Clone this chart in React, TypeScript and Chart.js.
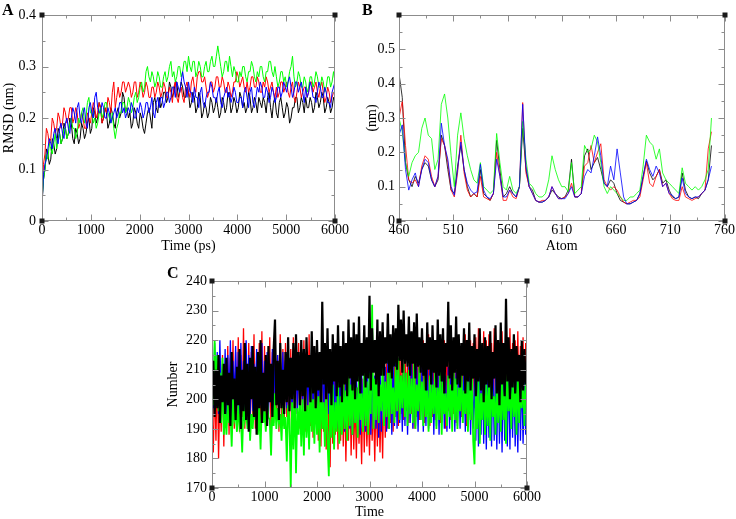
import React, { useEffect, useRef } from "react";
import { Chart, registerables } from "chart.js";

Chart.register(...registerables);

const SERIF = "'Liberation Serif', 'Times New Roman', Times, serif";
const FRAME_COLOR = "#8c8c8c";
const RED = "#ff0000";
const GREEN = "#00ff00";
const BLUE = "#0000ff";
const BLACK = "#000000";

// ---------------- Panel A : RMSD (nm) vs Time (ps), sampled every 30 ps ----------------
const A_T_START = 0;
const A_T_STEP = 30;
const A_XTICKS = [0, 1000, 2000, 3000, 4000, 5000, 6000];
const A_YTICKS = [0, 0.1, 0.2, 0.3, 0.4];
const A_YLABELS = ["0", "0.1", "0.2", "0.3", "0.4"];

const A_BLACK = [
  0.03, 0.08, 0.10, 0.14, 0.13, 0.11, 0.12, 0.16, 0.15, 0.13, 0.14, 0.18, 0.17, 0.15, 0.16, 0.19, 0.18, 0.16, 0.17, 0.20,
  0.19, 0.16, 0.15, 0.18, 0.17, 0.15, 0.16, 0.19, 0.18, 0.16, 0.17, 0.19, 0.20, 0.17, 0.18, 0.22, 0.21, 0.19, 0.20, 0.23,
  0.22, 0.19, 0.20, 0.22, 0.21, 0.18, 0.19, 0.22, 0.21, 0.19, 0.18, 0.21, 0.22, 0.20, 0.21, 0.25, 0.24, 0.21, 0.22, 0.20,
  0.21, 0.18, 0.19, 0.22, 0.21, 0.19, 0.18, 0.21, 0.20, 0.18, 0.17, 0.19, 0.21, 0.22, 0.20, 0.18, 0.23, 0.24, 0.22, 0.21,
  0.24, 0.22, 0.23, 0.25, 0.25, 0.23, 0.24, 0.27, 0.26, 0.24, 0.25, 0.27, 0.27, 0.24, 0.25, 0.27, 0.26, 0.24, 0.24, 0.26,
  0.25, 0.22, 0.23, 0.25, 0.24, 0.21, 0.22, 0.25, 0.24, 0.20, 0.21, 0.23, 0.22, 0.20, 0.21, 0.24, 0.23, 0.21, 0.22, 0.24,
  0.22, 0.20, 0.21, 0.24, 0.23, 0.21, 0.22, 0.25, 0.24, 0.21, 0.22, 0.24, 0.23, 0.21, 0.22, 0.25, 0.24, 0.22, 0.23, 0.21,
  0.22, 0.25, 0.24, 0.21, 0.22, 0.24, 0.23, 0.21, 0.24, 0.23, 0.22, 0.24, 0.23, 0.21, 0.24, 0.25, 0.22, 0.20, 0.23, 0.24,
  0.21, 0.20, 0.23, 0.24, 0.22, 0.20, 0.21, 0.23, 0.22, 0.19, 0.20, 0.22, 0.22, 0.24, 0.24, 0.21, 0.22, 0.24, 0.23, 0.21,
  0.24, 0.22, 0.22, 0.24, 0.23, 0.21, 0.22, 0.25, 0.24, 0.22, 0.23, 0.25, 0.24, 0.21, 0.22, 0.24, 0.23, 0.21, 0.22, 0.24,
  0.23,
];
const A_RED = [
  0.05, 0.11, 0.13, 0.18, 0.17, 0.15, 0.16, 0.20, 0.19, 0.17, 0.18, 0.21, 0.20, 0.18, 0.19, 0.22, 0.21, 0.19, 0.20, 0.22,
  0.22, 0.19, 0.20, 0.22, 0.21, 0.18, 0.19, 0.21, 0.20, 0.18, 0.18, 0.21, 0.20, 0.19, 0.21, 0.23, 0.22, 0.20, 0.21, 0.23,
  0.22, 0.19, 0.20, 0.22, 0.21, 0.24, 0.23, 0.21, 0.25, 0.27, 0.22, 0.24, 0.26, 0.24, 0.25, 0.27, 0.27, 0.25, 0.26, 0.27,
  0.26, 0.24, 0.25, 0.27, 0.27, 0.24, 0.25, 0.27, 0.26, 0.24, 0.25, 0.27, 0.26, 0.24, 0.24, 0.26, 0.26, 0.24, 0.25, 0.27,
  0.26, 0.24, 0.25, 0.27, 0.26, 0.24, 0.24, 0.26, 0.25, 0.23, 0.26, 0.27, 0.24, 0.23, 0.25, 0.26, 0.24, 0.23, 0.26, 0.27,
  0.25, 0.24, 0.27, 0.28, 0.26, 0.25, 0.28, 0.29, 0.29, 0.27, 0.27, 0.28, 0.26, 0.24, 0.25, 0.27, 0.27, 0.25, 0.26, 0.28,
  0.28, 0.26, 0.26, 0.28, 0.27, 0.25, 0.25, 0.27, 0.26, 0.24, 0.25, 0.27, 0.27, 0.29, 0.28, 0.26, 0.27, 0.28, 0.26, 0.25,
  0.27, 0.25, 0.26, 0.28, 0.28, 0.26, 0.26, 0.28, 0.27, 0.25, 0.25, 0.27, 0.26, 0.28, 0.27, 0.25, 0.26, 0.27, 0.25, 0.24,
  0.26, 0.24, 0.25, 0.27, 0.27, 0.25, 0.26, 0.27, 0.25, 0.24, 0.26, 0.27, 0.24, 0.23, 0.25, 0.27, 0.26, 0.24, 0.25, 0.26,
  0.26, 0.24, 0.25, 0.27, 0.27, 0.25, 0.26, 0.27, 0.25, 0.24, 0.26, 0.27, 0.25, 0.23, 0.24, 0.26, 0.25, 0.23, 0.24, 0.25,
  0.25,
];
const A_GREEN = [
  0.04, 0.08, 0.10, 0.13, 0.12, 0.15, 0.14, 0.13, 0.15, 0.17, 0.14, 0.16, 0.17, 0.15, 0.16, 0.18, 0.18, 0.16, 0.17, 0.19,
  0.20, 0.18, 0.18, 0.16, 0.17, 0.20, 0.19, 0.21, 0.22, 0.19, 0.20, 0.23, 0.24, 0.21, 0.21, 0.19, 0.20, 0.18, 0.19, 0.21,
  0.22, 0.20, 0.21, 0.23, 0.23, 0.21, 0.20, 0.19, 0.21, 0.18, 0.16, 0.18, 0.19, 0.21, 0.21, 0.23, 0.23, 0.21, 0.22, 0.24,
  0.23, 0.21, 0.22, 0.24, 0.25, 0.23, 0.24, 0.26, 0.27, 0.25, 0.26, 0.29, 0.30, 0.28, 0.27, 0.29, 0.28, 0.26, 0.27, 0.29,
  0.28, 0.26, 0.26, 0.28, 0.29, 0.27, 0.28, 0.30, 0.31, 0.28, 0.29, 0.27, 0.28, 0.30, 0.30, 0.28, 0.29, 0.31, 0.31, 0.29,
  0.32, 0.30, 0.29, 0.31, 0.31, 0.28, 0.29, 0.31, 0.30, 0.28, 0.28, 0.30, 0.31, 0.29, 0.29, 0.31, 0.32, 0.30, 0.30, 0.32,
  0.34, 0.32, 0.30, 0.28, 0.29, 0.31, 0.31, 0.29, 0.32, 0.30, 0.28, 0.30, 0.29, 0.27, 0.27, 0.29, 0.28, 0.30, 0.30, 0.28,
  0.27, 0.29, 0.29, 0.31, 0.30, 0.28, 0.27, 0.29, 0.28, 0.30, 0.30, 0.28, 0.27, 0.29, 0.29, 0.31, 0.31, 0.29, 0.28, 0.30,
  0.28, 0.26, 0.27, 0.29, 0.29, 0.27, 0.28, 0.26, 0.27, 0.29, 0.30, 0.32, 0.28, 0.26, 0.27, 0.29, 0.28, 0.26, 0.26, 0.28,
  0.27, 0.25, 0.26, 0.28, 0.28, 0.26, 0.27, 0.29, 0.28, 0.26, 0.26, 0.28, 0.27, 0.25, 0.26, 0.28, 0.28, 0.26, 0.27, 0.29,
  0.27,
];
const A_BLUE = [
  0.03, 0.09, 0.11, 0.12, 0.14, 0.16, 0.15, 0.14, 0.17, 0.18, 0.16, 0.15, 0.18, 0.19, 0.17, 0.16, 0.19, 0.20, 0.18, 0.17,
  0.20, 0.22, 0.21, 0.19, 0.22, 0.23, 0.20, 0.19, 0.21, 0.22, 0.19, 0.18, 0.22, 0.23, 0.21, 0.20, 0.24, 0.25, 0.22, 0.21,
  0.21, 0.23, 0.22, 0.20, 0.20, 0.22, 0.21, 0.19, 0.20, 0.21, 0.22, 0.20, 0.21, 0.23, 0.23, 0.21, 0.22, 0.20, 0.21, 0.22,
  0.21, 0.23, 0.22, 0.20, 0.20, 0.22, 0.21, 0.23, 0.22, 0.20, 0.21, 0.23, 0.23, 0.21, 0.22, 0.24, 0.21, 0.20, 0.23, 0.24,
  0.22, 0.24, 0.24, 0.22, 0.23, 0.25, 0.25, 0.23, 0.24, 0.26, 0.26, 0.24, 0.27, 0.26, 0.25, 0.27, 0.29, 0.27, 0.26, 0.24,
  0.27, 0.25, 0.25, 0.23, 0.26, 0.24, 0.24, 0.22, 0.25, 0.26, 0.23, 0.22, 0.24, 0.25, 0.25, 0.27, 0.26, 0.24, 0.24, 0.23,
  0.25, 0.26, 0.23, 0.22, 0.24, 0.25, 0.26, 0.24, 0.25, 0.23, 0.24, 0.26, 0.25, 0.23, 0.23, 0.24, 0.24, 0.22, 0.25, 0.26,
  0.24, 0.22, 0.25, 0.26, 0.23, 0.22, 0.24, 0.26, 0.25, 0.27, 0.26, 0.24, 0.24, 0.26, 0.25, 0.23, 0.24, 0.26, 0.25, 0.23,
  0.24, 0.26, 0.26, 0.24, 0.25, 0.27, 0.26, 0.25, 0.27, 0.28, 0.26, 0.24, 0.25, 0.27, 0.27, 0.25, 0.26, 0.27, 0.25, 0.23,
  0.26, 0.24, 0.25, 0.27, 0.26, 0.24, 0.24, 0.23, 0.25, 0.27, 0.26, 0.24, 0.24, 0.26, 0.25, 0.23, 0.23, 0.22, 0.25, 0.26,
  0.27,
];

// ---------------- Panel B : (nm) vs Atom, sampled every 3 atoms ----------------
const B_ATOM_START = 460;
const B_ATOM_STEP = 3;
const B_XTICKS = [460, 510, 560, 610, 660, 710, 760];
const B_YTICKS = [0, 0.1, 0.2, 0.3, 0.4, 0.5, 0.6];
const B_YLABELS = ["0", "0.1", "0.2", "0.3", "0.4", "0.5", ""];

const B_BLACK = [
  0.43, 0.36, 0.17, 0.12, 0.10, 0.13, 0.11, 0.15, 0.17, 0.16,
  0.12, 0.10, 0.12, 0.25, 0.22, 0.15, 0.09, 0.08, 0.16, 0.22,
  0.15, 0.10, 0.07, 0.08, 0.07, 0.15, 0.08, 0.07, 0.06, 0.08,
  0.235, 0.15, 0.07, 0.08, 0.10, 0.08, 0.07, 0.10, 0.27, 0.15,
  0.10, 0.09, 0.06, 0.055, 0.055, 0.06, 0.07, 0.09, 0.08, 0.07,
  0.065, 0.07, 0.09, 0.18, 0.07, 0.07, 0.08, 0.19, 0.21, 0.15,
  0.17, 0.185, 0.15, 0.11, 0.10, 0.12, 0.11, 0.08, 0.06, 0.055,
  0.05, 0.05, 0.055, 0.06, 0.08, 0.13, 0.175, 0.14, 0.12, 0.13,
  0.15, 0.11, 0.12, 0.09, 0.07, 0.065, 0.07, 0.14, 0.09, 0.07,
  0.065, 0.07, 0.065, 0.08, 0.09, 0.12, 0.22,
];
const B_RED = [
  0.30, 0.35, 0.22, 0.12, 0.11, 0.12, 0.10, 0.16, 0.19, 0.18,
  0.13, 0.10, 0.13, 0.24, 0.22, 0.17, 0.09, 0.07, 0.14, 0.25,
  0.14, 0.09, 0.07, 0.08, 0.07, 0.13, 0.07, 0.065, 0.06, 0.08,
  0.20, 0.13, 0.06, 0.06, 0.09, 0.07, 0.065, 0.10, 0.345, 0.14,
  0.10, 0.08, 0.06, 0.055, 0.06, 0.06, 0.07, 0.10, 0.08, 0.065,
  0.065, 0.07, 0.08, 0.11, 0.07, 0.07, 0.08, 0.16, 0.17, 0.22,
  0.17, 0.20, 0.225, 0.12, 0.10, 0.09, 0.10, 0.09, 0.07, 0.055,
  0.05, 0.055, 0.06, 0.06, 0.07, 0.12, 0.17, 0.11, 0.10, 0.13,
  0.15, 0.10, 0.11, 0.08, 0.065, 0.06, 0.06, 0.10, 0.07, 0.065,
  0.06, 0.065, 0.07, 0.08, 0.09, 0.21, 0.26,
];
const B_GREEN = [
  0.30, 0.26, 0.17, 0.13, 0.17, 0.19, 0.20, 0.27, 0.30, 0.25,
  0.24, 0.15, 0.18, 0.34, 0.37, 0.30, 0.19, 0.10, 0.25, 0.315,
  0.24, 0.19, 0.15, 0.12, 0.11, 0.17, 0.10, 0.09, 0.08, 0.09,
  0.255, 0.17, 0.10, 0.09, 0.13, 0.09, 0.08, 0.10, 0.29, 0.18,
  0.11, 0.10, 0.08, 0.07, 0.07, 0.08, 0.12, 0.19, 0.15, 0.12,
  0.10, 0.10, 0.085, 0.17, 0.08, 0.09, 0.10, 0.22, 0.20, 0.21,
  0.25, 0.23, 0.17, 0.10, 0.08, 0.10, 0.09, 0.08, 0.07, 0.06,
  0.06, 0.07, 0.07, 0.08, 0.09, 0.16, 0.25, 0.23, 0.22, 0.18,
  0.21, 0.14, 0.12, 0.11, 0.10, 0.09, 0.08, 0.155, 0.11, 0.10,
  0.09, 0.10, 0.09, 0.10, 0.12, 0.15, 0.30,
];
const B_BLUE = [
  0.25, 0.28, 0.15, 0.09, 0.12, 0.14, 0.10, 0.15, 0.18, 0.17,
  0.12, 0.10, 0.13, 0.285, 0.22, 0.18, 0.10, 0.075, 0.15, 0.23,
  0.15, 0.11, 0.09, 0.08, 0.085, 0.165, 0.09, 0.07, 0.065, 0.08,
  0.18, 0.13, 0.07, 0.07, 0.09, 0.08, 0.07, 0.10, 0.34, 0.16,
  0.10, 0.08, 0.06, 0.055, 0.055, 0.06, 0.07, 0.10, 0.08, 0.065,
  0.065, 0.065, 0.08, 0.10, 0.07, 0.07, 0.08, 0.13, 0.15, 0.14,
  0.19, 0.245, 0.19, 0.11, 0.10, 0.16, 0.12, 0.21, 0.14, 0.07,
  0.05, 0.05, 0.055, 0.06, 0.08, 0.13, 0.18, 0.15, 0.13, 0.16,
  0.14, 0.10, 0.11, 0.08, 0.075, 0.065, 0.07, 0.125, 0.08, 0.07,
  0.065, 0.07, 0.07, 0.08, 0.09, 0.12, 0.16,
];

// ---------------- Panel C : Number vs Time, sampled every 25 ----------------
const C_T_START = 0;
const C_T_STEP = 25;
const C_XTICKS = [0, 1000, 2000, 3000, 4000, 5000, 6000];
const C_YTICKS = [170, 180, 190, 200, 210, 220, 230, 240];
const C_YLABELS = ["170", "180", "190", "200", "210", "220", "230", "240"];

const C_BLACK = [
  202, 213, 194, 210, 197, 215, 192, 208, 199, 212,
  195, 214, 198, 209, 191, 216, 200, 207, 193, 211,
  198, 217, 190, 210, 196, 219, 193, 212, 189, 214,
  200, 218, 194, 211, 188, 216, 197, 220, 192, 209,
  196, 215, 191, 218, 199, 212, 194, 217, 227, 198,
  213, 193, 219, 197, 210, 195, 216, 199, 221, 196,
  214, 200, 219, 197, 222, 203, 216, 198, 220, 201,
  217, 196, 221, 204, 215, 199, 223, 202, 218, 197,
  220, 203, 216, 199, 233, 205, 219, 200, 224, 202,
  217, 198, 222, 206, 219, 201, 225, 204, 218, 199,
  223, 205, 219, 201, 227, 207, 221, 203, 226, 200,
  222, 206, 228, 202, 219, 208, 225, 204, 221, 207,
  235, 203, 224, 209, 220, 205, 227, 201, 223, 208,
  226, 208, 221, 212, 229, 209, 222, 207, 225, 211,
  224, 210, 232, 213, 227, 209, 230, 212, 222, 211,
  228, 208, 223, 212, 226, 207, 229, 211, 221, 209,
  224, 208, 219, 203, 226, 210, 221, 205, 225, 209,
  220, 204, 227, 208, 222, 206, 224, 202, 219, 211,
  233, 207, 225, 203, 221, 209, 228, 205, 222, 204,
  219, 208, 224, 202, 220, 206, 226, 203, 218, 207,
  222, 201, 217, 206, 224, 203, 219, 199, 221, 205,
  218, 204, 223, 200, 216, 207, 225, 202, 220, 198,
  226, 205, 219, 201, 234, 206, 221, 200, 217, 204,
  222, 202, 218, 206, 215, 199, 220, 203, 217, 205,
  210,
];
const C_GREEN = [
  212, 198, 220, 203, 215, 196, 209, 192, 214, 188,
  196, 188, 199, 192, 197, 184, 200, 193, 195, 189,
  198, 191, 194, 182, 199, 193, 196, 190, 200, 186,
  195, 190, 198, 193, 205, 188, 197, 183, 199, 192,
  196, 189, 200, 194, 193, 181, 198, 191, 202, 190,
  197, 192, 195, 186, 199, 190, 194, 179, 198, 193,
  170, 199, 183, 205, 175, 197, 188, 202, 184, 200,
  181, 204, 187, 198, 183, 206, 189, 200, 185, 203,
  188, 201, 182, 207, 190, 199, 184, 204, 186, 174,
  202, 187, 205, 183, 199, 189, 206, 185, 201, 188,
  207, 190, 203, 186, 209, 191, 205, 188, 210, 192,
  204, 187, 208, 193, 202, 189, 210, 191, 206, 188,
  209, 195, 232, 190, 207, 193, 211, 192, 205, 196,
  212, 191, 206, 194, 209, 190, 213, 195, 204, 192,
  211, 196, 214, 193, 208, 197, 212, 194, 209, 191,
  210, 195, 207, 192, 213, 190, 205, 196, 211, 193,
  206, 191, 210, 194, 203, 189, 208, 192, 205, 195,
  209, 190, 204, 193, 211, 188, 206, 195, 202, 191,
  208, 194, 205, 189, 212, 193, 207, 190, 204, 196,
  210, 192, 203, 195, 208, 189, 206, 193, 209, 186,
  178, 204, 190, 207, 185, 202, 193, 209, 188, 205,
  191, 206, 186, 210, 194, 201, 188, 207, 192, 204,
  189, 208, 193, 203, 185, 211, 196, 205, 190, 209,
  194, 206, 188, 212, 192, 204, 197, 208, 191, 205,
  210,
];
const C_RED = [
  195, 182, 207, 186, 212, 180, 204, 189, 215, 184,
  210, 191, 218, 188, 214, 193, 220, 190, 216, 192,
  221, 189, 215, 194, 224, 190, 217, 192, 219, 188,
  216, 193, 222, 190, 213, 195, 219, 189, 223, 192,
  218, 190, 214, 194, 221, 188, 216, 192, 220, 195,
  215, 189, 222, 193, 217, 191, 219, 194, 214, 190,
  217, 192, 221, 188, 215, 195, 219, 190, 213, 193,
  220, 189, 216, 194, 222, 191, 214, 187, 218, 192,
  212, 186, 216, 184, 210, 189, 214, 183, 211, 187,
  177, 210, 185, 213, 188, 208, 183, 215, 186, 209,
  184, 206, 179, 203, 186, 208, 181, 205, 183, 200,
  180, 204, 185, 198, 178, 207, 182, 202, 184, 199,
  181, 205, 186, 200, 179, 203, 184, 206, 182, 201,
  180, 209, 187, 212, 190, 214, 192, 216, 189, 211,
  194, 217, 191, 220, 195, 215, 193, 218, 196, 214,
  192, 219, 195, 216, 190, 221, 194, 217, 193, 215,
  196, 220, 192, 218, 195, 222, 191, 216, 194, 219,
  193, 217, 197, 221, 192, 215, 195, 220, 190, 218,
  196, 222, 193, 217, 195, 219, 192, 221, 197, 216,
  194, 218, 196, 222, 191, 217, 195, 220, 193, 219,
  197, 221, 195, 224, 199, 218, 196, 223, 198, 220,
  195, 222, 198, 219, 196, 224, 194, 220, 199, 217,
  197, 223, 195, 218, 200, 221, 196, 224, 198, 219,
  196, 220, 199, 223, 195, 218, 197, 221, 194, 219,
  214,
];
const C_BLUE = [
  214, 197, 219, 202, 216, 195, 220, 199, 212, 196,
  217, 194, 215, 198, 220, 193, 213, 200, 218, 196,
  216, 195, 219, 198, 213, 194, 220, 197, 215, 193,
  218, 196, 212, 199, 217, 195, 214, 198, 219, 194,
  213, 197, 216, 195, 212, 199, 217, 196, 214, 198,
  215, 196, 211, 198, 216, 195, 213, 197, 217, 199,
  214, 196, 212, 198, 217, 195, 213, 199, 215, 197,
  212, 195, 216, 198, 213, 196, 218, 197, 211, 199,
  214, 194, 212, 197, 216, 193, 213, 196, 215, 195,
  211, 192, 214, 195, 210, 190, 213, 194, 209, 191,
  212, 189, 208, 193, 213, 190, 210, 188, 211, 192,
  209, 190, 212, 188, 210, 191, 207, 189, 213, 192,
  210, 188, 213, 191, 208, 190, 211, 187, 212, 189,
  208, 192, 211, 189, 214, 190, 209, 188, 212, 191,
  213, 190, 210, 192, 208, 189, 212, 191, 209, 188,
  211, 192, 214, 190, 209, 191, 212, 189, 210, 193,
  212, 189, 208, 191, 213, 190, 210, 192, 211, 188,
  209, 191, 212, 188, 210, 192, 213, 190, 208, 189,
  211, 190, 209, 193, 212, 189, 210, 191, 213, 190,
  208, 192, 211, 189, 210, 191, 212, 188, 209, 190,
  207, 186, 212, 184, 209, 188, 214, 185, 210, 183,
  211, 187, 206, 184, 213, 186, 208, 183, 212, 185,
  209, 182, 213, 186, 207, 184, 211, 183, 215, 187,
  210, 184, 208, 182, 212, 186, 209, 185, 206, 188,
  200,
];

// ---------------- helpers ----------------
const toPoints = (vals: number[], start: number, step: number) =>
  vals.map((v, i) => ({ x: start + i * step, y: v }));

const line = (vals: number[], start: number, step: number, color: string, width = 1) => ({
  data: toPoints(vals, start, step),
  borderColor: color,
  backgroundColor: color,
  borderWidth: width,
  pointRadius: 0,
  tension: 0,
  fill: false,
});

const MAJOR = 6;
const MINOR = 3;

const frameTicksPlugin = {
  id: "frameTicks",
  afterDatasetsDraw(chart: any) {
    const { ctx, chartArea } = chart;
    const { left, right, top, bottom } = chartArea;
    const xs = chart.scales.x;
    const ys = chart.scales.y;
    const xv: number[] = xs.ticks.map((t: any) => t.value);
    const yv: number[] = ys.ticks.map((t: any) => t.value);
    const mids = (v: number[]) => v.slice(1).map((b, i) => (v[i] + b) / 2);
    const px = (s: any, v: number) => Math.round(s.getPixelForValue(v)) + 0.5;
    const L = Math.round(left) + 0.5;
    const R = Math.round(right) - 0.5;
    const T = Math.round(top) + 0.5;
    const B = Math.round(bottom) - 0.5;
    ctx.save();
    ctx.strokeStyle = FRAME_COLOR;
    ctx.lineWidth = 1;
    ctx.beginPath();
    const seg = (x1: number, y1: number, x2: number, y2: number) => {
      ctx.moveTo(x1, y1);
      ctx.lineTo(x2, y2);
    };
    const xTicks = (vals: number[], len: number) =>
      vals.forEach((v) => {
        const p = px(xs, v);
        seg(p, B, p, B - len);
        seg(p, T, p, T + len);
      });
    const yTicks = (vals: number[], len: number) =>
      vals.forEach((v) => {
        const p = px(ys, v);
        seg(L, p, L + len, p);
        seg(R, p, R - len, p);
      });
    xTicks(xv, MAJOR);
    xTicks(mids(xv), MINOR);
    yTicks(yv, MAJOR);
    yTicks(mids(yv), MINOR);
    ctx.stroke();
    ctx.strokeRect(L, T, R - L, B - T);
    ctx.fillStyle = "#1a1a1a";
    [
      [left, top],
      [right, top],
      [left, bottom],
      [right, bottom],
    ].forEach(([cx, cy]) => ctx.fillRect(Math.round(cx) - 2.5, Math.round(cy) - 2.5, 5, 5));
    ctx.restore();
  },
};

type AxisSpec = {
  min: number;
  max: number;
  ticks: number[];
  labels?: string[];
  title: string;
  size: number;
  tickPad: number;
  titlePad: number;
};

function makeConfig(
  datasets: any[],
  x: AxisSpec,
  y: AxisSpec,
  padding: { left: number; top: number; right: number; bottom: number }
) {
  const font = { family: SERIF, size: 14 };
  const titleFont = { family: SERIF, size: 14, lineHeight: 1 };
  return {
    type: "line",
    data: { datasets },
    plugins: [frameTicksPlugin],
    options: {
      animation: false,
      responsive: false,
      devicePixelRatio: 1,
      layout: { padding },
      plugins: { legend: { display: false }, tooltip: { enabled: false } },
      scales: {
        x: {
          type: "linear",
          min: x.min,
          max: x.max,
          afterBuildTicks: (s: any) => {
            s.ticks = x.ticks.map((v) => ({ value: v }));
          },
          afterFit: (s: any) => {
            s.height = x.size;
          },
          ticks: {
            font,
            color: "#000",
            padding: x.tickPad,
            maxRotation: 0,
            autoSkip: false,
            callback: (v: any) => String(v),
          },
          grid: { display: false, drawTicks: false },
          border: { display: false },
          title: {
            display: true,
            text: x.title,
            font: titleFont,
            color: "#000",
            padding: { top: 0, bottom: x.titlePad },
          },
        },
        y: {
          type: "linear",
          min: y.min,
          max: y.max,
          afterBuildTicks: (s: any) => {
            s.ticks = y.ticks.map((v) => ({ value: v }));
          },
          afterFit: (s: any) => {
            s.width = y.size;
          },
          ticks: {
            font,
            color: "#000",
            padding: y.tickPad,
            autoSkip: false,
            callback: (_v: any, i: number) => (y.labels ? y.labels[i] : String(_v)),
          },
          grid: { display: false, drawTicks: false },
          border: { display: false },
          title: {
            display: true,
            text: y.title,
            font: titleFont,
            color: "#000",
            padding: { top: y.titlePad, bottom: 0 },
          },
        },
      },
    },
  };
}

function Panel(props: { left: number; top: number; width: number; height: number; config: any }) {
  const ref = useRef<HTMLCanvasElement | null>(null);
  useEffect(() => {
    if (!ref.current) return;
    const chart = new Chart(ref.current, props.config);
    return () => chart.destroy();
  }, []);
  return (
    <canvas
      ref={ref}
      width={props.width}
      height={props.height}
      style={{
        position: "absolute",
        left: props.left,
        top: props.top,
        width: props.width,
        height: props.height,
      }}
    />
  );
}

const letterStyle = (left: number, top: number): React.CSSProperties => ({
  position: "absolute",
  left,
  top,
  fontFamily: SERIF,
  fontWeight: "bold",
  fontSize: 16,
  lineHeight: "16px",
  color: "#000",
});

export default function App() {
  const configA = makeConfig(
    [
      line(A_BLUE, A_T_START, A_T_STEP, BLUE),
      line(A_GREEN, A_T_START, A_T_STEP, GREEN),
      line(A_RED, A_T_START, A_T_STEP, RED),
      line(A_BLACK, A_T_START, A_T_STEP, BLACK),
    ],
    { min: 0, max: 6000, ticks: A_XTICKS, title: "Time (ps)", size: 39, tickPad: 1, titlePad: 7 },
    { min: 0, max: 0.4, ticks: A_YTICKS, labels: A_YLABELS, title: "RMSD (nm)", size: 42, tickPad: 6, titlePad: 2 },
    { left: 0, top: 15, right: 25, bottom: 0 }
  );
  const configB = makeConfig(
    [
      line(B_BLUE, B_ATOM_START, B_ATOM_STEP, BLUE, 0.8),
      line(B_GREEN, B_ATOM_START, B_ATOM_STEP, GREEN, 0.8),
      line(B_RED, B_ATOM_START, B_ATOM_STEP, RED, 0.8),
      line(B_BLACK, B_ATOM_START, B_ATOM_STEP, BLACK, 0.8),
    ],
    { min: 460, max: 760, ticks: B_XTICKS, title: "Atom", size: 39, tickPad: 1, titlePad: 7 },
    { min: 0, max: 0.6, ticks: B_YTICKS, labels: B_YLABELS, title: "(nm)", size: 39, tickPad: 4, titlePad: 5 },
    { left: 0, top: 15, right: 10, bottom: 0 }
  );
  const configC = makeConfig(
    [
      line(C_BLACK, C_T_START, C_T_STEP, BLACK, 2.2),
      line(C_GREEN, C_T_START, C_T_STEP, GREEN, 1.8),
      line(C_BLUE, C_T_START, C_T_STEP, BLUE, 1.3),
      line(C_RED, C_T_START, C_T_STEP, RED, 1.3),
    ],
    { min: 0, max: 6000, ticks: C_XTICKS, title: "Time", size: 31, tickPad: 1, titlePad: 0 },
    { min: 170, max: 240, ticks: C_YTICKS, labels: C_YLABELS, title: "Number", size: 62, tickPad: 5, titlePad: 16 },
    { left: 0, top: 21, right: 43, bottom: 0 }
  );

  return (
    <div
      style={{
        position: "fixed",
        left: 0,
        top: 0,
        width: 736,
        height: 519,
        overflow: "hidden",
        background: "#fff",
      }}
    >
      <Panel left={0} top={0} width={360} height={260} config={configA} />
      <Panel left={360} top={0} width={376} height={260} config={configB} />
      <Panel left={150} top={260} width={420} height={259} config={configC} />
      <div style={letterStyle(2, 2)}>A</div>
      <div style={letterStyle(362, 2)}>B</div>
      <div style={letterStyle(167, 265)}>C</div>
    </div>
  );
}
